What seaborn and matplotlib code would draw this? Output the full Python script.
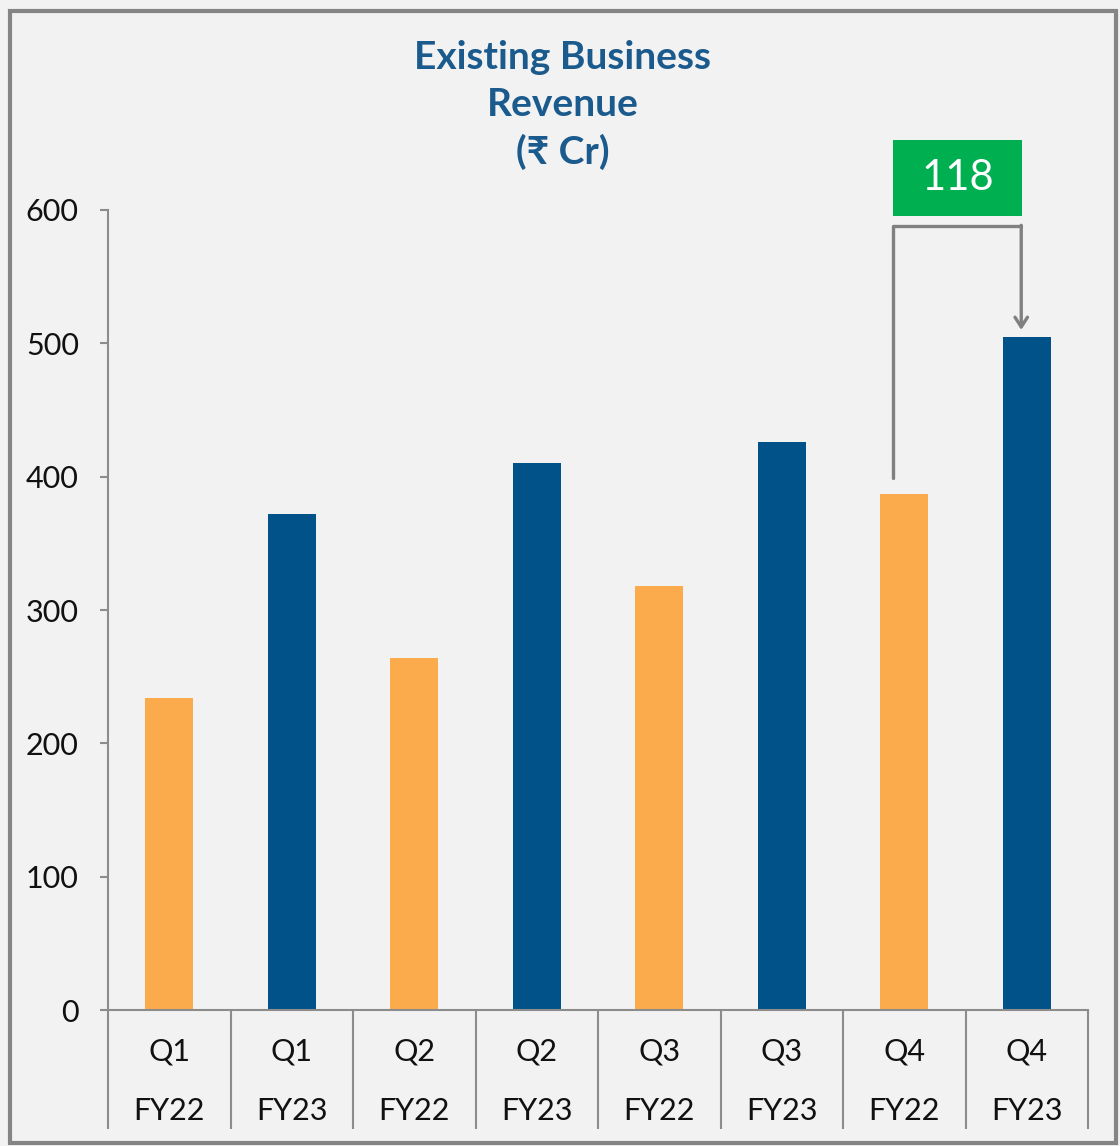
import numpy as np
import pandas as pd
import matplotlib
matplotlib.use("Agg")
import matplotlib.pyplot as plt
import seaborn as sns
from matplotlib.patches import Rectangle

# ---- data ----
quarters = ["Q1", "Q1", "Q2", "Q2", "Q3", "Q3", "Q4", "Q4"]
years = ["FY22", "FY23", "FY22", "FY23", "FY22", "FY23", "FY22", "FY23"]
revenue = [234, 372, 264, 410, 318, 426, 387, 505]
growth_label = "118"
yticks = [0, 100, 200, 300, 400, 500, 600]
title = "Existing Business\nRevenue\n(₹ Cr)"

palette = {"FY22": "#FBAB4C", "FY23": "#005288"}
BG = "#F2F2F2"
GREY = "#8C8C8C"

df = pd.DataFrame({
    "cat": [f"{q}\n{y}" for q, y in zip(quarters, years)],
    "year": years,
    "revenue": revenue,
})

plt.rcParams['font.family'] = ['Lato', 'DejaVu Sans']

W, H = 1120, 1146
fig = plt.figure(figsize=(W / 100, H / 100), dpi=100, facecolor=BG)
ax = fig.add_axes([108 / W, 1 - 1010 / H, 980 / W, 800 / H])
ax.set_facecolor(BG)

sns.barplot(data=df, x="cat", y="revenue", hue="year", palette=palette,
            dodge=False, width=0.39, legend=False, saturation=1, ax=ax)

ax.set_xlim(-0.5, 7.5)
ax.set_ylim(0, 600)
ax.set_xlabel("")
ax.set_ylabel("")
for s in ["top", "right"]:
    ax.spines[s].set_visible(False)
for s in ["left", "bottom"]:
    ax.spines[s].set_color(GREY)
    ax.spines[s].set_linewidth(1.5)

ax.set_yticks(yticks)
ax.tick_params(axis='y', length=6, width=1.5, color=GREY, pad=15,
               labelsize=22, labelcolor="#111111")

ax.set_xticks(range(len(df)))
ax.set_xticklabels(df["cat"], linespacing=2.35, fontsize=22, color="#111111")
ax.tick_params(axis='x', which='major', length=0, pad=20)
ax.set_xticks(np.arange(-0.5, len(df), 1), minor=True)
ax.tick_params(axis='x', which='minor', length=86, width=1.5, color=GREY)

# growth bracket and arrow
xl, xr = 5.908, 6.955
ytop = 588
ax.plot([xl, xl, xr], [399, ytop, ytop], color="#808080", lw=2.4,
        solid_joinstyle='round', solid_capstyle='round', clip_on=False)
ax.annotate("", xy=(xr, 510), xytext=(xr, ytop + 0.5),
            arrowprops=dict(arrowstyle="->,head_length=0.7,head_width=0.45",
                            color="#808080", lw=2.4, shrinkA=0, shrinkB=0),
            annotation_clip=False)

ax.add_patch(Rectangle((xl, 595.5), 6.961 - xl, 57, facecolor="#00B050",
                       edgecolor="none", clip_on=False))
ax.text((xl + 6.961) / 2, 624, growth_label, color="white", fontsize=30,
        fontweight="normal", ha="center", va="center", clip_on=False)

fig.text(563 / W, 1 - 105 / H, title, ha="center", va="center",
         fontsize=28, fontweight="bold", color="#1B5A8C", linespacing=1.4)

fig.add_artist(Rectangle((9.5 / W, 1 - 1143 / H), (1116 - 9.5) / W, (1143 - 11) / H,
                         transform=fig.transFigure, fill=False,
                         edgecolor="#858585", linewidth=3))

fig.savefig("out.png", dpi=100, facecolor=BG)
